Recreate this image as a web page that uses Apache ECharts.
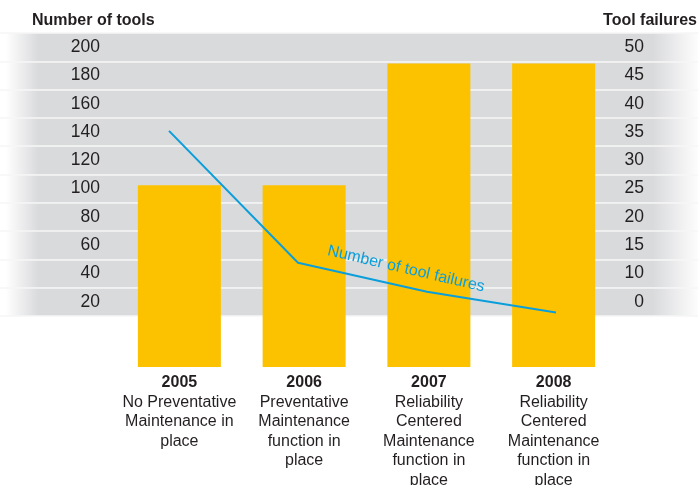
<!DOCTYPE html>
<html>
<head>
<meta charset="utf-8">
<script src="https://cdn.jsdelivr.net/npm/echarts@6/dist/echarts.min.js"></script>
<style>
  html, body { margin: 0; padding: 0; background: #fff; }
  #chart { width: 698px; height: 485px; }
</style>
</head>
<body>
<div id="chart"></div>
<script>
// ---- data ----
const years = ['2005', '2006', '2007', '2008'];
const descriptions = [
  'No Preventative\nMaintenance in\nplace',
  'Preventative\nMaintenance\nfunction in\nplace',
  'Reliability\nCentered\nMaintenance\nfunction in\nplace',
  'Reliability\nCentered\nMaintenance\nfunction in\nplace'
];
const toolCounts = [102.5, 102.5, 188.5, 188.5];
const toolFailures = [35.2, 11.9, 6.8, 3.1];
const leftTickLabels = ['20', '40', '60', '80', '100', '120', '140', '160', '180', '200'];
const rightTickLabels = ['0', '10', '15', '20', '25', '30', '35', '40', '45', '50'];
const leftTitle = 'Number of tools';
const rightTitle = 'Tool failures';
const lineLabel = 'Number of tool failures';

// ---- styles ----
const FONT = '"Liberation Sans", Arial, sans-serif';
const TEXT = '#231f20';
const BAR = '#fcc200';
const LINE = '#0a9edb';
const GRAY = '#d9dadc';
const BAR_MIN = -26, BAR_MAX = 210;

const bandFill = {
  type: 'linear', x: 0, y: 0, x2: 698, y2: 0, global: true,
  colorStops: [
    { offset: 0, color: '#ffffff' },
    { offset: 0.008, color: '#ffffff' },
    { offset: 0.055, color: GRAY },
    { offset: 0.935, color: GRAY },
    { offset: 1, color: '#fdfdfd' }
  ]
};

const chart = echarts.init(document.getElementById('chart'), null, { renderer: 'canvas' });

chart.setOption({
  animation: false,
  backgroundColor: '#fff',
  textStyle: { fontFamily: FONT },
  grid: [
    { left: 0, right: 0, top: 33, height: 283, outerBoundsMode: 'none', containLabel: false },
    { left: 117, right: 82, top: 33, height: 334, outerBoundsMode: 'none', containLabel: false },
    { left: 104.5, right: 77.5, top: 33, height: 283, outerBoundsMode: 'none', containLabel: false }
  ],
  xAxis: [
    { gridIndex: 0, type: 'value', show: false, min: 0, max: 1 },
    {
      gridIndex: 1, type: 'category', data: years,
      axisLine: { show: false }, axisTick: { show: false },
      axisLabel: {
        interval: 0, margin: 6,
        formatter: (v, i) => '{y|' + v + '}\n' +
          descriptions[i].split('\n').map(l => '{d|' + l + '}').join('\n'),
        rich: {
          y: { fontFamily: FONT, fontSize: 16, fontWeight: 'bold', color: TEXT, lineHeight: 19.5 },
          d: { fontFamily: FONT, fontSize: 16, color: TEXT, lineHeight: 19.5 }
        }
      }
    },
    { gridIndex: 2, type: 'category', data: years, show: false }
  ],
  yAxis: [
    {
      gridIndex: 0, type: 'category', position: 'left', data: leftTickLabels,
      offset: -108,
      axisLine: { show: false }, axisTick: { show: false },
      axisLabel: { margin: 8, fontFamily: FONT, fontSize: 17.5, color: TEXT },
      splitArea: { show: true, areaStyle: { color: [bandFill] } },
      splitLine: { show: true, lineStyle: { color: '#f6f6f6', width: 1.5 } }
    },
    {
      gridIndex: 0, type: 'category', position: 'right', data: rightTickLabels,
      offset: -62,
      axisLine: { show: false }, axisTick: { show: false },
      axisLabel: { margin: 8, align: 'right', fontFamily: FONT, fontSize: 17.5, color: TEXT },
      splitArea: { show: false }, splitLine: { show: false }
    },
    { gridIndex: 1, type: 'value', min: BAR_MIN, max: BAR_MAX, show: false, splitLine: { show: false } },
    { gridIndex: 2, type: 'value', min: 2.5, max: 52.5, show: false, splitLine: { show: false } }
  ],
  series: [
    {
      type: 'custom',
      xAxisIndex: 1, yAxisIndex: 2,
      data: years.map((y, i) => [i, toolCounts[i]]),
      encode: { x: 0, y: 1 },
      renderItem: function (params, api) {
        const top = api.coord([api.value(0), api.value(1)]);
        const bot = api.coord([api.value(0), BAR_MIN]);
        const w = 83;
        return {
          type: 'rect',
          shape: { x: top[0] - w / 2, y: top[1], width: w, height: bot[1] - top[1] },
          style: { fill: BAR }
        };
      },
      z: 3
    },
    {
      type: 'line',
      xAxisIndex: 2, yAxisIndex: 3,
      data: toolFailures,
      symbol: 'none',
      lineStyle: { color: LINE, width: 2 },
      z: 5
    }
  ],
  graphic: [
    {
      type: 'text', x: 32, y: 21,
      style: { text: leftTitle, font: 'bold 16px ' + FONT, fill: TEXT, textAlign: 'left', textVerticalAlign: 'middle' }
    },
    {
      type: 'text', x: 697, y: 21,
      style: { text: rightTitle, font: 'bold 16px ' + FONT, fill: TEXT, textAlign: 'right', textVerticalAlign: 'middle' }
    },
    {
      type: 'text', x: 406, y: 269, rotation: -0.2304, z: 10,
      style: { text: lineLabel, font: '16px ' + FONT, fill: LINE, textAlign: 'center', textVerticalAlign: 'middle' }
    }
  ]
});
</script>
</body>
</html>
